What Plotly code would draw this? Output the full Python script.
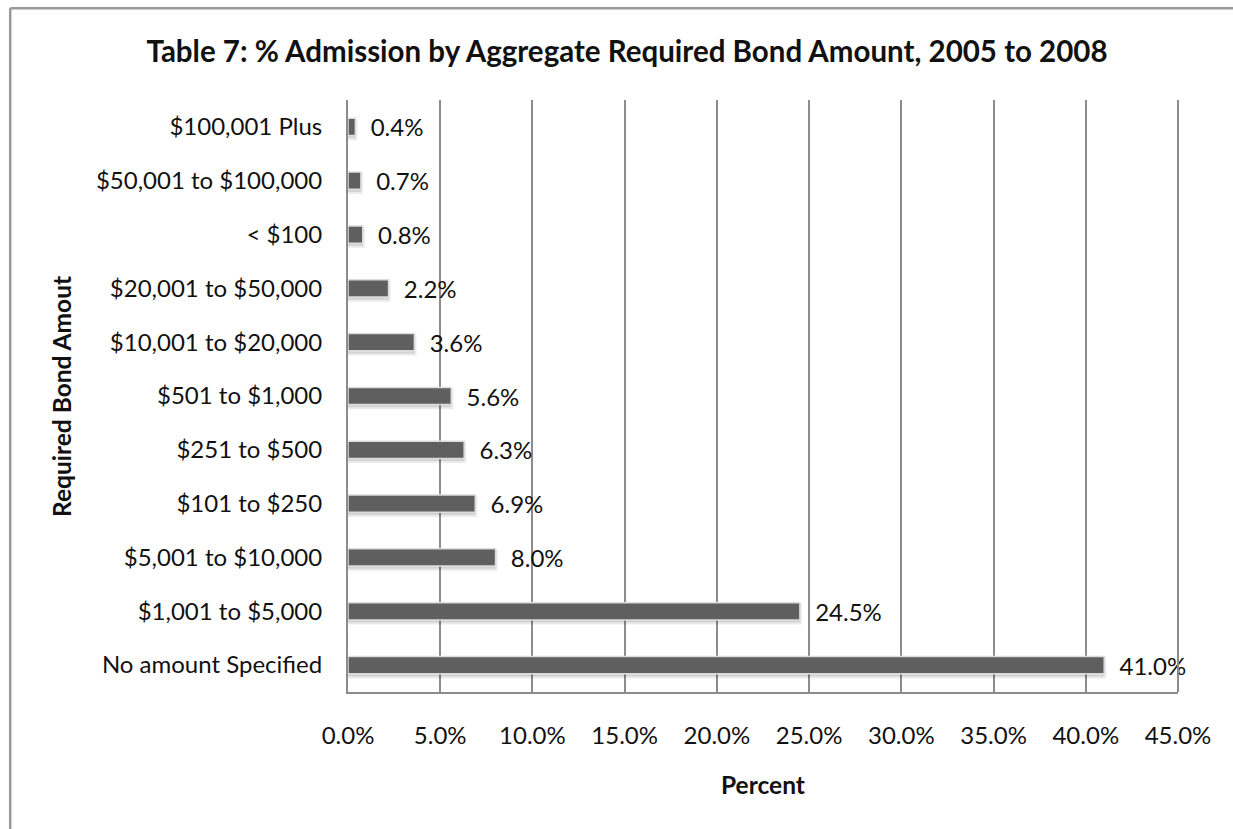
import plotly.graph_objects as go

# Bond amount categories, bottom to top
categories = [
    "No amount Specified",
    "$1,001 to $5,000",
    "$5,001 to $10,000",
    "$101 to $250",
    "$251 to $500",
    "$501 to $1,000",
    "$10,001 to $20,000",
    "$20,001 to $50,000",
    "< $100",
    "$50,001 to $100,000",
    "$100,001 Plus",
]
percent = [41.0, 24.5, 8.0, 6.9, 6.3, 5.6, 3.6, 2.2, 0.8, 0.7, 0.4]
x_ticks = [0, 5, 10, 15, 20, 25, 30, 35, 40, 45]

FONT = "Lato, Open Sans, sans-serif"
INK = "#111111"
BAR_W = 0.32

fig = go.Figure()
# soft drop shadow under each bar
fig.add_trace(go.Bar(
    y=categories,
    x=percent,
    orientation="h",
    width=BAR_W,
    offset=-BAR_W / 2 - 0.05,
    marker=dict(color="rgba(0,0,0,0.10)", line=dict(color="rgba(0,0,0,0.08)", width=4)),
    hoverinfo="skip",
))
fig.add_trace(go.Bar(
    y=categories,
    x=percent,
    orientation="h",
    width=BAR_W,
    offset=-BAR_W / 2,
    marker=dict(color="#5f5f5f", line=dict(color="#dcdcdc", width=1.5)),
    text=[f"{v:.1f}%" for v in percent],
    texttemplate="  %{text}",
    textposition="outside",
    constraintext="none",
    textfont=dict(family=FONT, size=24, color=INK),
    cliponaxis=False,
))

fig.update_layout(
    width=1233,
    height=829,
    margin=dict(l=348, r=55, t=100, b=137),
    paper_bgcolor="white",
    plot_bgcolor="white",
    showlegend=False,
    barmode="overlay",
    title=dict(
        text="<b>Table 7: % Admission by Aggregate Required Bond Amount, 2005 to 2008</b>",
        x=627 / 1233, xref="container", xanchor="center",
        y=1 - 52 / 829, yref="container", yanchor="middle",
        font=dict(family=FONT, size=29.5, color=INK),
    ),
    font=dict(family=FONT, size=24, color=INK),
)

fig.update_xaxes(
    range=[0, 45],
    tickvals=x_ticks,
    ticktext=[f"{v:.1f}%" for v in x_ticks],
    showgrid=True,
    gridcolor="#8c8c8c",
    gridwidth=1.5,
    zeroline=False,
    showline=True,
    linecolor="#8c8c8c",
    linewidth=2,
    mirror=False,
    ticks="",
    ticklabelstandoff=21,
    tickfont=dict(family=FONT, size=24, color=INK),
)
fig.update_yaxes(
    categoryorder="array",
    categoryarray=categories,
    showgrid=False,
    zeroline=False,
    showline=True,
    linecolor="#8c8c8c",
    linewidth=2,
    ticks="",
    ticklabelstandoff=19,
    tickfont=dict(family=FONT, size=24, color=INK),
)

# axis titles
fig.add_annotation(text="<b>Percent</b>", xref="paper", yref="paper",
                   x=0.5, y=-0.157, showarrow=False,
                   xanchor="center", yanchor="middle",
                   font=dict(family=FONT, size=24.5, color=INK))
fig.add_annotation(text="<b>Required Bond Amout</b>", xref="paper", yref="paper",
                   x=-0.3458, y=0.5, showarrow=False, textangle=-90,
                   xanchor="center", yanchor="middle",
                   font=dict(family=FONT, size=24.5, color=INK))

# right edge of plot area
fig.add_shape(type="line", xref="paper", yref="paper", x0=1, x1=1, y0=0, y1=1,
              line=dict(color="#8c8c8c", width=2))
# outer chart frame
fig.add_shape(type="line", xref="paper", yref="paper",
              x0=-0.407, x1=-0.407, y0=-0.3, y1=1.155,
              line=dict(color="#9a9a9a", width=2.5))
fig.add_shape(type="line", xref="paper", yref="paper",
              x0=-0.407, x1=1.2, y0=1.155, y1=1.155,
              line=dict(color="#9a9a9a", width=2.5))

fig.write_html("out.html")
